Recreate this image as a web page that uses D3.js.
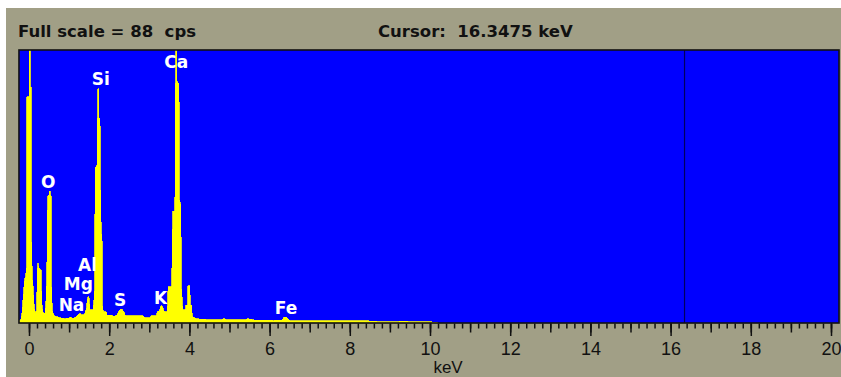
<!DOCTYPE html>
<html>
<head>
<meta charset="utf-8">
<script src="https://cdn.jsdelivr.net/npm/d3@7/dist/d3.min.js"></script>
<style>
	body { margin: 0; background: #ffffff; }
	svg { display: block; }
	.hdr { font-family: "DejaVu Sans", sans-serif; font-weight: bold; font-size: 16.5px; fill: #111111; white-space: pre; }
	.tick text { font-family: "Liberation Sans Narrow", "Liberation Sans", sans-serif; font-size: 18px; fill: #111111; }
	.peak { font-family: "DejaVu Sans", sans-serif; font-weight: bold; font-size: 17px; fill: #ffffff; }
</style>
</head>
<body>
<div id="chart"></div>
<script>
// spectrum: energy (keV) and counts (cps)
let energy = [
	-0.24, -0.225, -0.20, -0.19, -0.175, -0.11, -0.085, -0.06, -0.057, 0.0, 0.001, 0.03, 0.031, 0.055, 0.057,
	0.08, 0.10, 0.13, 0.16, 0.19, 0.21, 0.215, 0.235, 0.24, 0.265, 0.30, 0.32, 0.35, 0.40,
	0.43, 0.45, 0.465, 0.505, 0.506, 0.525, 0.526, 0.55, 0.56, 0.58, 0.62, 0.70, 0.80, 0.90, 0.97, 1.04, 1.10,
	1.16, 1.22, 1.27, 1.32, 1.38, 1.43, 1.45, 1.47, 1.495, 1.52, 1.56, 1.60, 1.625, 1.64,
	1.65, 1.70, 1.705, 1.715, 1.716, 1.74, 1.741, 1.77, 1.775, 1.80, 1.82, 1.83, 1.85, 1.93, 1.95, 2.02, 2.12,
	2.20, 2.23, 2.28, 2.31, 2.37, 2.40, 2.60, 2.84, 2.90, 3.00, 3.05, 3.18, 3.20, 3.26, 3.285, 3.31, 3.35, 3.37,
	3.45, 3.47, 3.56, 3.585, 3.64, 3.65, 3.66, 3.661, 3.685, 3.686, 3.74, 3.745, 3.785, 3.80, 3.835, 3.90, 3.915,
	3.955, 3.965, 4.005, 4.015, 4.025, 4.055, 4.07, 4.15, 4.20, 4.40, 4.42, 4.80, 4.85, 4.95, 5.00, 5.15, 5.40, 5.45,
	5.60, 5.65, 5.90, 6.10, 6.30, 6.36, 6.42, 6.50, 6.60, 7.20, 7.60, 8.20, 8.65, 8.70, 9.20, 9.25, 9.60,
	9.65, 10.15, 10.20
];
let counts = [
	0, 1, 1, 2, 3, 14, 15, 18, 73, 73, 100, 100, 76, 76, 30,
	15, 12, 5, 3.2, 4, 16, 19.2, 19.2, 17, 17.6, 17, 6, 3.5, 3,
	8, 20, 41, 41.3, 42.5, 42.5, 41.3, 41, 12, 4, 2.5, 2, 1.6, 1.4, 1.5, 1.8, 1.5,
	1.8, 2.6, 3.1, 2.6, 2.8, 4.4, 7, 8.4, 8.4, 4.2, 4.2, 4.4, 8, 12,
	50, 51, 66, 66, 75.5, 75.5, 66, 66, 50, 29, 28, 6, 3.6, 3.6, 2.4, 2.6, 2.2,
	2.5, 3.6, 4.5, 4.5, 3.6, 2.4, 2.3, 2.3, 1.7, 1.6, 2.3, 2.4, 3.6, 4, 5.5, 5.5, 4.5, 3.6,
	3.6, 11.6, 11.7, 36, 36, 77, 78, 100, 100, 78, 77, 40, 38, 11.6, 4.2, 4.2, 5.8,
	5.8, 12, 12, 9, 5.8, 5.8, 2, 1.6, 1.3, 1.2, 1.0, 1.0, 1.4, 1.0, 1.0, 1.0, 1.0, 1.4,
	1.0, 0.9, 0.9, 0.8, 0.9, 1.8, 1.8, 0.8, 0.7, 0.7, 0.7, 0.7, 0.6, 0.4, 0.4, 0.6, 0.4,
	0.4, 0.3, 0
];

// element markers: name, energy where the label sits, counts where the label sits
let elementNames = ["O", "Na", "Mg", "Al", "Si", "S", "K", "Ca", "Fe"];
let elementKeV = [0.48, 1.06, 1.23, 1.46, 1.79, 2.27, 3.28, 3.67, 6.41];
let elementCps = [43.4, 3.9, 10.6, 16.8, 76.8, 5.5, 6.1, 82.2, 2.9];

let fullScale = 88;
let cursorKeV = 16.3475;
let majorTicks = [0, 2, 4, 6, 8, 10, 12, 14, 16, 18, 20];
let midTicks = d3.range(0, 21, 1);
let minorTicks = d3.range(0, 101, 1).map(function (i) { return i / 5; });

let width = 841, height = 377;

let x = d3.scaleLinear()
	.domain([0, 20])
	.range([29, 831]);

let y = d3.scaleLinear()
	.domain([0, fullScale])
	.range([323, 50]);

let svg = d3.select("#chart").append("svg")
	.attr("width", width)
	.attr("height", height);

// window face
svg.append("rect")
	.attr("x", 6)
	.attr("y", 8)
	.attr("width", width - 6)
	.attr("height", height - 8)
	.attr("fill", "#a19f86");

svg.append("text")
	.attr("class", "hdr")
	.attr("x", 18)
	.attr("y", 36.5)
	.text("Full scale = " + fullScale + "  cps");

svg.append("text")
	.attr("class", "hdr")
	.attr("x", 378)
	.attr("y", 36.5)
	.text("Cursor:  " + cursorKeV + " keV");

let left = x(-0.25), right = x(20.2);

svg.append("clipPath")
	.attr("id", "plotclip")
	.append("rect")
	.attr("x", left)
	.attr("y", y(fullScale))
	.attr("width", right - left)
	.attr("height", y(0) - y(fullScale));

svg.append("rect")
	.attr("x", left)
	.attr("y", y(fullScale))
	.attr("width", right - left)
	.attr("height", y(0) - y(fullScale))
	.attr("fill", "#0000ff");

let spectrum = energy.map(function (e, i) {
	return { e: e, c: counts[i] };
});

let area = d3.area()
	.x(function (d) { return x(d.e); })
	.y0(y(0))
	.y1(function (d) { return y(d.c); });

let plot = svg.append("g")
	.attr("clip-path", "url(#plotclip)");

plot.append("path")
	.datum(spectrum)
	.attr("d", area)
	.attr("fill", "#ffff00")
	.attr("stroke", "#ffff00")
	.attr("stroke-width", 0.8)
	.attr("shape-rendering", "crispEdges");

// cursor
plot.append("line")
	.attr("x1", x(cursorKeV))
	.attr("x2", x(cursorKeV))
	.attr("y1", y(fullScale))
	.attr("y2", y(0))
	.attr("stroke", "#000060")
	.attr("stroke-width", 1.2);

// frame
svg.append("rect")
	.attr("x", left)
	.attr("y", y(fullScale))
	.attr("width", right - left)
	.attr("height", y(0) - y(fullScale))
	.attr("fill", "none")
	.attr("stroke", "#111111")
	.attr("stroke-width", 1.6);

plot.selectAll(".peak")
	.data(elementNames)
	.enter().append("text")
	.attr("class", "peak")
	.attr("x", function (d, i) { return x(elementKeV[i]); })
	.attr("y", function (d, i) { return y(elementCps[i]); })
	.attr("text-anchor", "middle")
	.text(function (d) { return d; });

// three tick levels along the energy axis
function tickRow(values, size, labels) {
	let axis = d3.axisBottom(x)
		.tickValues(values)
		.tickSize(size)
		.tickFormat(labels ? d3.format("d") : "");
	let g = svg.append("g")
		.attr("transform", "translate(0," + (y(0) + 0.5) + ")")
		.call(axis);
	g.select(".domain").remove();
	g.selectAll(".tick line")
		.attr("stroke", "#111111")
		.attr("stroke-width", 1.5);
	g.selectAll(".tick text")
		.attr("y", 31.5)
		.attr("dy", 0);
	return g;
}

tickRow(minorTicks, 5, false);
tickRow(midTicks, 9, false);
tickRow(majorTicks, 12.5, true);

svg.append("text")
	.attr("x", x(10.45))
	.attr("y", 373)
	.attr("text-anchor", "middle")
	.style("font-family", "'Liberation Sans Narrow', 'Liberation Sans', sans-serif")
	.style("font-size", "17px")
	.attr("fill", "#111111")
	.text("keV");
</script>
</body>
</html>
